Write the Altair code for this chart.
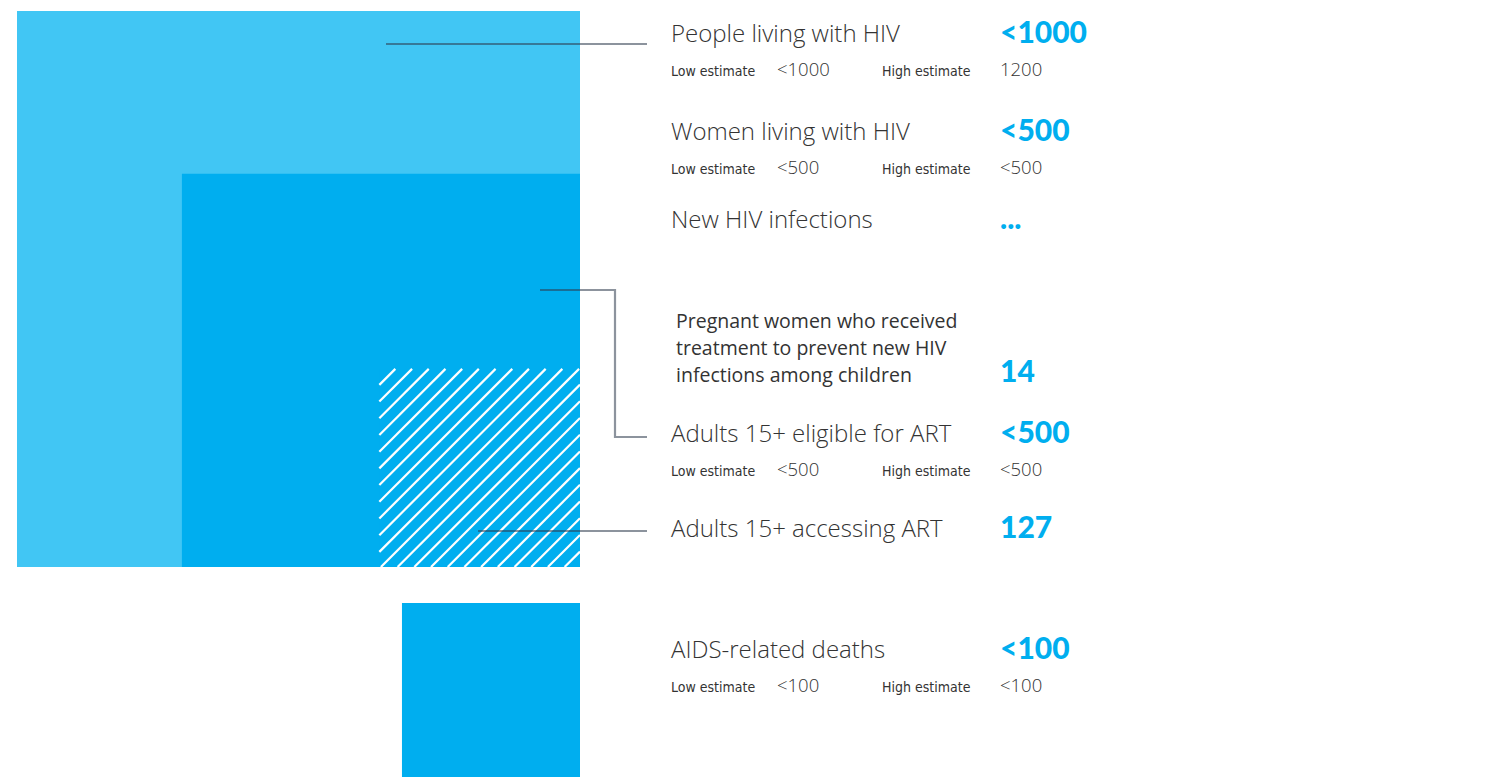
import math
import altair as alt
import pandas as pd

# ---------------- data ----------------
row_labels = ["People living with HIV", "Women living with HIV", "New HIV infections",
              "Adults 15+ eligible for ART", "Adults 15+ accessing ART", "AIDS-related deaths"]
row_values = ["<1000", "<500", "...", "<500", "127", "<100"]
low_values = ["<1000", "<500", "", "<500", "", "<100"]
high_values = ["1200", "<500", "", "<500", "", "<100"]
pmtct_label = ["Pregnant women who received", "treatment to prevent new HIV", "infections among children"]
pmtct_value = ["14"]

square_names = ["People living with HIV", "Adults 15+ eligible for ART",
                "Adults 15+ accessing ART", "AIDS-related deaths"]
square_values = [1000, 500, 127, 100]

# ---------------- layout ----------------
row_baseline = [42, 140, 228, 442, 537, 658]
sub_offset = 34
has_sub = [True, True, False, True, False, True]
pmtct_baseline = [328, 355, 382]

LABEL_X, VALUE_X, LOW_VAL_X, HIGH_LBL_X = 671, 1000, 777, 882
RIGHT, BOTTOM, DEATH_TOP = 580, 567, 603
KX = 563 / math.sqrt(1000)
KY = 556 / math.sqrt(1000)
square_colors = ["#41C6F4", "#00AEEF", "#00AEEF", "#00AEEF"]

W, H = 1472, 761
PAD_B = 8
xs = alt.Scale(domain=[8, 8 + W], nice=False, zero=False)
ys = alt.Scale(domain=[8, 8 + H], nice=False, zero=False, reverse=True)

# squares
sq = []
for i, (n, v) in enumerate(zip(square_names, square_values)):
    sx, sy = KX * math.sqrt(v), KY * math.sqrt(v)
    if n == "AIDS-related deaths":
        top, bot = DEATH_TOP, DEATH_TOP + sy
    else:
        top, bot = BOTTOM - sy, BOTTOM
    sq.append(dict(name=n, value=v, x=RIGHT - sx, x2=RIGHT, y=top, y2=bot, color=square_colors[i]))
sq_df = pd.DataFrame(sq)

squares = alt.Chart(sq_df).mark_rect().encode(
    x=alt.X("x:Q", scale=xs, axis=None), x2="x2:Q",
    y=alt.Y("y:Q", scale=ys, axis=None), y2="y2:Q",
    color=alt.Color("color:N", scale=None),
)

# hatch pattern over the "accessing ART" square
h = sq_df[sq_df.name == "Adults 15+ accessing ART"].iloc[0]
x0, x1, y0, y1 = h.x, h.x2, h.y, h.y2
hatch = []
c = x0 + y0 + 16
while c < x1 + y1:
    xa = max(x0, c - y1)
    xb = min(x1, c - y0)
    if xb > xa:
        hatch.append(dict(x=xa, y=c - xa, x2=xb, y2=c - xb))
    c += 16.7
hatch_df = pd.DataFrame(hatch)
hatch_layer = alt.Chart(hatch_df).mark_rule(color="white", strokeWidth=2.2).encode(
    x=alt.X("x:Q", scale=xs), y=alt.Y("y:Q", scale=ys), x2="x2:Q", y2="y2:Q"
)

# connectors
conn = [
    (0, 0, 386, 44), (0, 1, 647, 44),
    (1, 0, 540, 290), (1, 1, 615, 290), (1, 2, 615, 437), (1, 3, 647, 437),
    (2, 0, 478, 531), (2, 1, 647, 531),
]
conn_df = pd.DataFrame(conn, columns=["id", "o", "x", "y"])
connectors = alt.Chart(conn_df).mark_line(color="#2d3b4d", opacity=0.55, strokeWidth=2.2).encode(
    x=alt.X("x:Q", scale=xs), y=alt.Y("y:Q", scale=ys), detail="id:N", order="o:Q"
)

# texts
lab_df = pd.DataFrame(dict(t=row_labels, x=LABEL_X, y=row_baseline))
val_df = pd.DataFrame(dict(t=row_values, x=VALUE_X, y=[b + 1 for b in row_baseline]))
sub_rows = [i for i in range(6) if has_sub[i]]
est_lbl_df = pd.DataFrame(
    [dict(t="Low estimate", x=LABEL_X, y=row_baseline[i] + sub_offset) for i in sub_rows]
    + [dict(t="High estimate", x=HIGH_LBL_X, y=row_baseline[i] + sub_offset) for i in sub_rows]
)
est_val_df = pd.DataFrame(
    [dict(t=low_values[i], x=LOW_VAL_X, y=row_baseline[i] + sub_offset) for i in sub_rows]
    + [dict(t=high_values[i], x=VALUE_X, y=row_baseline[i] + sub_offset) for i in sub_rows]
)
pm_df = pd.DataFrame(dict(t=pmtct_label, x=676, y=pmtct_baseline))
pmv_df = pd.DataFrame(dict(t=pmtct_value, x=VALUE_X, y=[382]))


def txt(df, **kw):
    return alt.Chart(df).mark_text(align="left", baseline="alphabetic", **kw).encode(
        x=alt.X("x:Q", scale=xs), y=alt.Y("y:Q", scale=ys), text="t:N"
    )


labels = txt(lab_df, font="Open Sans", fontSize=24, fontWeight=300, color="#333333")
values = txt(val_df, font="Lato", fontSize=30, fontWeight=900, color="#00AEEF")
est_lbl = txt(est_lbl_df, font="'DejaVu Sans Condensed', 'Liberation Sans Narrow', Roboto",
              fontSize=14, color="#333333")
est_val = txt(est_val_df, font="Open Sans", fontSize=18.5, fontWeight=300, color="#333333")
pm = txt(pm_df, font="Open Sans", fontSize=19.5, fontWeight=500, color="#333333")
pmv = txt(pmv_df, font="Lato", fontSize=30, fontWeight=900, color="#00AEEF")

chart = alt.layer(squares, hatch_layer, connectors, labels, values, est_lbl, est_val, pm, pmv).properties(
    width=W, height=H, padding={"left": 0, "top": 0, "right": 0, "bottom": PAD_B}, autosize="none"
).configure_view(strokeWidth=0)

chart.save("out.html", embed_options={"renderer": "svg", "actions": False})
